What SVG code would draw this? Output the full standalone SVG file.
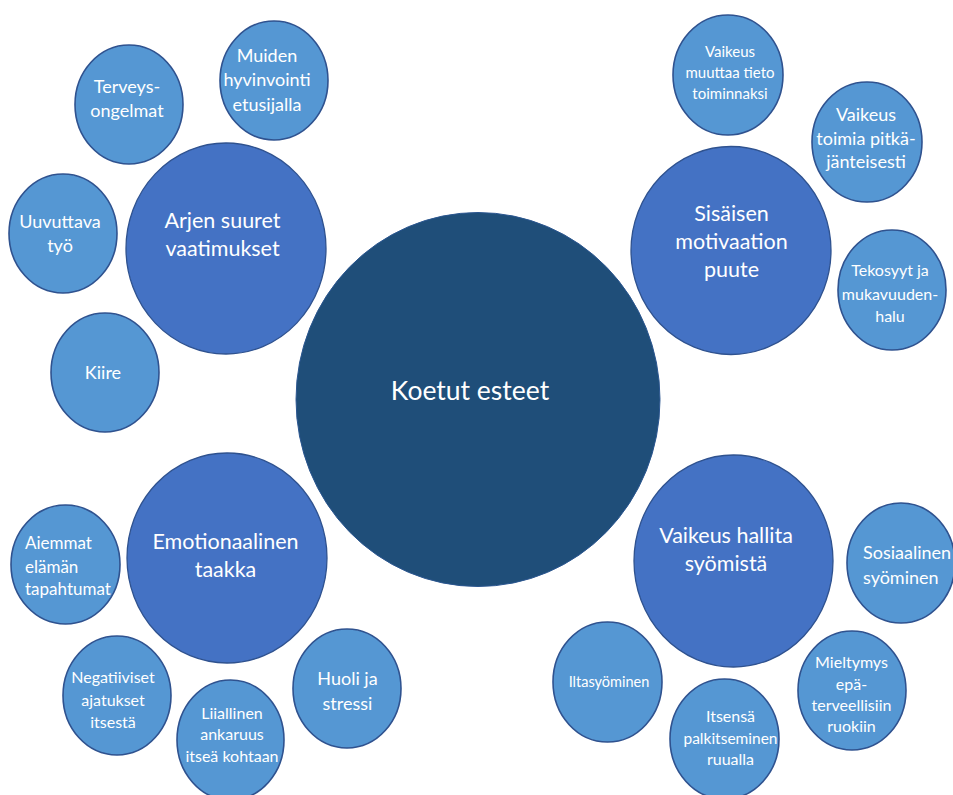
<svg xmlns="http://www.w3.org/2000/svg" width="953" height="795" viewBox="0 0 953 795">
<style>
  .center { fill: #1F4E79; stroke: #2B5690; stroke-width: 1; }
  .cat { fill: #4472C4; stroke: #2F528F; stroke-width: 1.3; }
  .leaf { fill: #5597D3; stroke: #2F528F; stroke-width: 1.6; }
  text { font-family: Lato, "Open Sans", "Liberation Sans", sans-serif; fill: #FFFFFF; text-anchor: middle; }
  .tc { font-size: 26.5px; }
  .tk { font-size: 21.5px; }
  .tl { font-size: 18px; }
  .ts { font-size: 16px; }
  .tx { font-size: 15px; }
  .t17 { font-size: 17px; }
  .t145 { font-size: 14.5px; }
  .t155 { font-size: 15.5px; }
  .left { text-anchor: start; }
</style>
<rect x="0" y="0" width="953" height="795" fill="#FFFFFF"/>
<g id="connectors"/>

<g id="koetut-esteet">
  <ellipse class="center" cx="478" cy="399.5" rx="182" ry="187"/>
  <text class="tc" x="470" y="400">Koetut esteet</text>
</g>

<g id="arjen-suuret-vaatimukset">
  <ellipse class="cat" cx="226" cy="248.5" rx="100" ry="105.5"/>
  <text class="tk" x="222.5" y="228">Arjen suuret</text>
  <text class="tk" x="222.5" y="256">vaatimukset</text>
</g>
<g id="terveysongelmat">
  <ellipse class="leaf" cx="129" cy="104.5" rx="54" ry="59.5"/>
  <text class="tl" x="127" y="92.5">Terveys-</text>
  <text class="tl" x="127" y="116.5">ongelmat</text>
</g>
<g id="muiden-hyvinvointi">
  <ellipse class="leaf" cx="274" cy="80.5" rx="54" ry="59.5"/>
  <text class="tl" x="267" y="61.5">Muiden</text>
  <text class="tl" x="267" y="86">hyvinvointi</text>
  <text class="tl" x="267" y="110.5">etusijalla</text>
</g>
<g id="uuvuttava-tyo">
  <ellipse class="leaf" cx="63" cy="233.5" rx="54" ry="59.5"/>
  <text class="tl" x="60" y="227.5">Uuvuttava</text>
  <text class="tl" x="60" y="252">työ</text>
</g>
<g id="kiire">
  <ellipse class="leaf" cx="105" cy="372.5" rx="54" ry="59.5"/>
  <text class="tl" x="103" y="379">Kiire</text>
</g>

<g id="sisaisen-motivaation-puute">
  <ellipse class="cat" cx="731" cy="250.5" rx="100" ry="104"/>
  <text class="tk" x="731.5" y="220.5">Sisäisen</text>
  <text class="tk" x="731.5" y="249">motivaation</text>
  <text class="tk" x="731.5" y="277">puute</text>
</g>
<g id="vaikeus-muuttaa-tieto">
  <ellipse class="leaf" cx="728" cy="75" rx="55" ry="60"/>
  <text class="tx" x="730" y="56.5">Vaikeus</text>
  <text class="tx" x="730" y="78">muuttaa tieto</text>
  <text class="tx" x="730" y="99">toiminnaksi</text>
</g>
<g id="vaikeus-toimia">
  <ellipse class="leaf" cx="867" cy="142" rx="55" ry="60"/>
  <text class="tl" x="866" y="120.5">Vaikeus</text>
  <text class="tl" x="866" y="145">toimia pitkä-</text>
  <text class="tl" x="866" y="167.5">jänteisesti</text>
</g>
<g id="tekosyyt">
  <ellipse class="leaf" cx="892" cy="290" rx="54" ry="60"/>
  <text class="ts" x="890" y="276">Tekosyyt ja</text>
  <text class="ts" x="890" y="299.5">mukavuuden-</text>
  <text class="ts" x="890" y="321.5">halu</text>
</g>

<g id="emotionaalinen-taakka">
  <ellipse class="cat" cx="227" cy="558" rx="100" ry="105"/>
  <text class="tk" x="225.5" y="548.5">Emotionaalinen</text>
  <text class="tk" x="225.5" y="576.5">taakka</text>
</g>
<g id="aiemmat">
  <ellipse class="leaf" cx="65.5" cy="564.5" rx="54.5" ry="59.5"/>
  <text class="t17 left" x="25" y="549">Aiemmat</text>
  <text class="t17 left" x="25" y="572.5">elämän</text>
  <text class="t17 left" x="25" y="595">tapahtumat</text>
</g>
<g id="negatiiviset">
  <ellipse class="leaf" cx="117" cy="695.5" rx="54" ry="59.5"/>
  <text class="ts" x="113" y="682.5">Negatiiviset</text>
  <text class="ts" x="113" y="706">ajatukset</text>
  <text class="ts" x="113" y="727.5">itsestä</text>
</g>
<g id="liiallinen-ankaruus">
  <ellipse class="leaf" cx="230.5" cy="740" rx="53.5" ry="60"/>
  <text class="ts" x="232" y="718.5">Liiallinen</text>
  <text class="ts" x="232" y="740">ankaruus</text>
  <text class="ts" x="232" y="761.5">itseä kohtaan</text>
</g>
<g id="huoli-ja-stressi">
  <ellipse class="leaf" cx="347" cy="688.5" rx="54" ry="59.5"/>
  <text class="tl" x="347.5" y="685">Huoli ja</text>
  <text class="tl" x="347.5" y="710">stressi</text>
</g>

<g id="vaikeus-hallita-syomista">
  <ellipse class="cat" cx="733.5" cy="561" rx="99.5" ry="106"/>
  <text class="tk" x="726" y="542.5">Vaikeus hallita</text>
  <text class="tk" x="726" y="571">syömistä</text>
</g>
<g id="sosiaalinen-syominen">
  <ellipse class="leaf" cx="901" cy="563" rx="54" ry="60"/>
  <text class="tl left" x="863" y="558.5">Sosiaalinen</text>
  <text class="tl left" x="863" y="583.5">syöminen</text>
</g>
<g id="iltasyominen">
  <ellipse class="leaf" cx="607.5" cy="682" rx="54.5" ry="60"/>
  <text class="t145" x="609" y="686.5">Iltasyöminen</text>
</g>
<g id="itsensa-palkitseminen">
  <ellipse class="leaf" cx="724.5" cy="739" rx="54.5" ry="60"/>
  <text class="ts" x="730.5" y="721.5">Itsensä</text>
  <text class="t155" x="730.5" y="744">palkitseminen</text>
  <text class="ts" x="730.5" y="765">ruualla</text>
</g>
<g id="mieltymys">
  <ellipse class="leaf" cx="852" cy="690.5" rx="54" ry="59.5"/>
  <text class="ts" x="851.5" y="668">Mieltymys</text>
  <text class="ts" x="851.5" y="690">epä-</text>
  <text class="ts" x="851.5" y="711">terveellisiin</text>
  <text class="ts" x="851.5" y="732">ruokiin</text>
</g>
</svg>
